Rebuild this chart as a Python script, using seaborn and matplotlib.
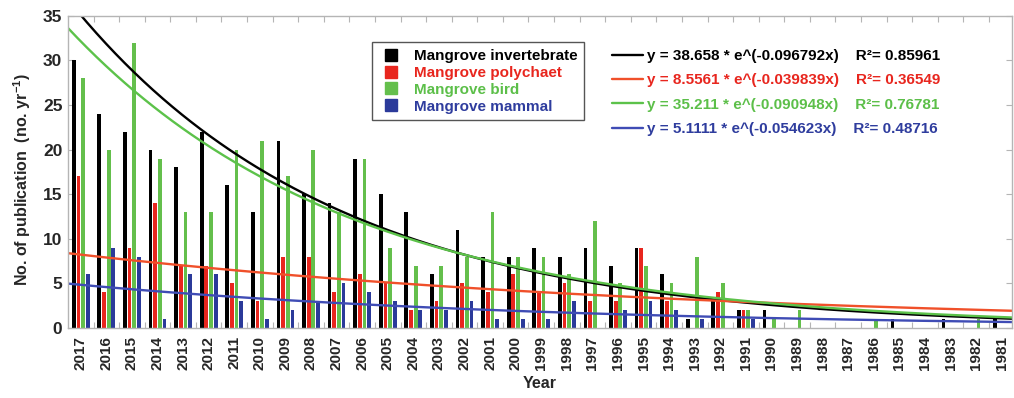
import matplotlib
matplotlib.use("Agg")
import numpy as np
import pandas as pd
import seaborn as sns
import matplotlib.pyplot as plt
from matplotlib.lines import Line2D
from matplotlib.ticker import FixedLocator

# Publications per year, newest first
years = list(range(2017, 1980, -1))
invertebrate = [30, 24, 22, 20, 18, 22, 16, 13, 21, 15, 14, 19, 15, 13, 6, 11, 8, 8, 9,
                8, 9, 7, 9, 6, 1, 3, 2, 2, 0, 0, 0, 0, 1, 0, 1, 0, 1]
polychaet = [17, 4, 9, 14, 7, 7, 5, 3, 8, 8, 4, 6, 5, 2, 3, 5, 4, 6, 4,
             5, 3, 3, 9, 3, 0, 4, 2, 0, 0, 0, 0, 0, 0, 0, 0, 0, 0]
bird = [28, 20, 32, 19, 13, 13, 20, 21, 17, 20, 13, 19, 9, 7, 7, 8, 13, 8, 8,
        6, 12, 5, 7, 5, 8, 5, 2, 1, 2, 0, 0, 1, 0, 0, 0, 1, 0]
mammal = [6, 9, 8, 1, 6, 6, 3, 1, 2, 3, 5, 4, 3, 2, 2, 3, 1, 1, 1,
          3, 0, 2, 3, 2, 1, 0, 1, 0, 0, 0, 0, 0, 0, 0, 0, 0, 0]

groups = ["Mangrove invertebrate", "Mangrove polychaet", "Mangrove bird", "Mangrove mammal"]

# Exponential fits y = a * exp(b * x), x = 1 for 2017
fit_a = ["38.658", "8.5561", "35.211", "5.1111"]
fit_b = ["-0.096792", "-0.039839", "-0.090948", "-0.054623"]
fit_r2 = ["0.85961", "0.36549", "0.76781", "0.48716"]

bar_colors = ["#000000", "#e8261e", "#64bf4c", "#2b3a9a"]
line_colors = ["#000000", "#f0502a", "#5cc24a", "#3f4cb5"]
text_colors = ["#000000", "#e8261e", "#5cbf49", "#2f3d9e"]

sns.set_theme(style="white")
plt.rcParams["font.family"] = ["Liberation Sans", "DejaVu Sans"]
plt.rcParams["font.weight"] = "bold"
plt.rcParams["mathtext.fontset"] = "custom"
plt.rcParams["mathtext.rm"] = "Liberation Sans:bold"
plt.rcParams["mathtext.bf"] = "Liberation Sans:bold"
plt.rcParams["mathtext.default"] = "bf"

year_labels = [str(y) for y in years]
df = pd.DataFrame({
    "Year": year_labels * 4,
    "Count": invertebrate + polychaet + bird + mammal,
    "Group": [g for g in groups for _ in years],
})

fig = plt.figure(figsize=(10.14, 3.98), dpi=100)
ax = fig.add_axes([0.067, 0.176, 0.931, 0.784])

sns.barplot(data=df, x="Year", y="Count", hue="Group", order=year_labels,
            hue_order=groups, palette=bar_colors, width=0.73, gap=0.2,
            saturation=1, errorbar=None, legend=False, linewidth=0, ax=ax)

# Fitted curves across the full axis
pos = np.linspace(-0.5, 36.5, 400)
line_handles = []
for a, b, c in zip(fit_a, fit_b, line_colors):
    ln, = ax.plot(pos, float(a) * np.exp(float(b) * (pos + 1)), color=c, lw=1.7)
    line_handles.append(ln)

ax.set_xlim(-0.5, 36.4)
ax.set_ylim(0, 35)
ax.set_yticks(range(0, 36, 5))
ax.set_xticks(range(len(years)))
ax.set_xticklabels(year_labels, rotation=90, fontsize=11, fontweight="bold")
ax.tick_params(axis="x", which="major", length=0, pad=6)
ax.xaxis.set_minor_locator(FixedLocator(np.arange(0.5, 36.5, 1)))
ax.tick_params(axis="x", which="minor", direction="in", length=4, top=True,
               bottom=True, color="#b5b5b5", width=0.8)
ax.tick_params(axis="y", direction="in", length=4, left=True, right=True,
               color="#b5b5b5", width=0.8, labelsize=12.5, pad=4)
for t in ax.get_yticklabels():
    t.set_fontweight("bold")
for sp in ax.spines.values():
    sp.set_color("#b5b5b5")
    sp.set_linewidth(1)

ax.set_xlabel("Year", fontsize=11.5, fontweight="bold", labelpad=4)
ax.set_ylabel(r"No. of publication  (no. yr$^{-1}$)", fontsize=11.5, fontweight="bold")
ax.yaxis.set_label_coords(-0.037, 0.474)

# Legend for the bar series
bar_handles = [Line2D([], [], marker="s", ls="", color=c, markersize=8) for c in bar_colors]
leg1 = ax.legend(bar_handles, groups, loc="upper left", bbox_to_anchor=(0.322, 0.915),
                 prop={"weight": "bold", "size": 11}, labelcolor=text_colors,
                 frameon=True, fancybox=False, edgecolor="#555555", framealpha=1,
                 handlelength=1.6, handletextpad=0.7, labelspacing=0.18,
                 borderpad=0.45, borderaxespad=0)
leg1.get_frame().set_linewidth(1)
ax.add_artist(leg1)

# Legend for the fitted curves
fit_labels = [f"y = {a} * e^({b}x)    R²= {r}" for a, b, r in zip(fit_a, fit_b, fit_r2)]
ax.legend(line_handles, fit_labels, loc="upper left", bbox_to_anchor=(0.57, 0.914),
          prop={"weight": "bold", "size": 11}, labelcolor=text_colors,
          frameon=False, handlelength=2.0, handletextpad=0.25, labelspacing=0.68,
          borderaxespad=0)

fig.savefig("out.png", dpi=100)
